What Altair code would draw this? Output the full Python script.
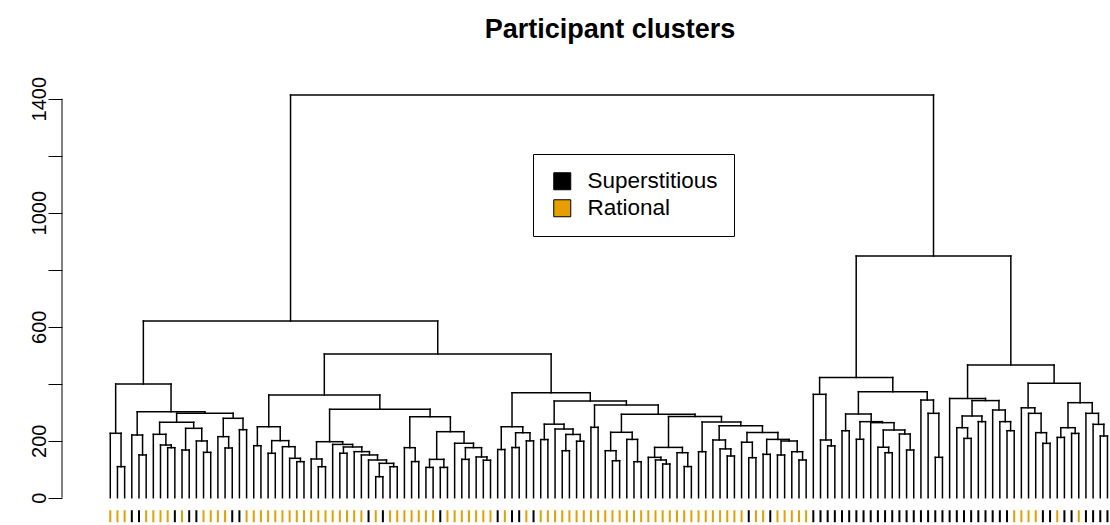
import altair as alt
import pandas as pd

# Hierarchical clustering of participants.
# Each merge is [left, right, height]; integers are participants in
# left-to-right dendrogram order.
A = [1, [2, 3, 109], 226]
B = [4, [5, 6, 150], 220]
C7 = [7, [8, [9, 10, 175.5], 184.9], 222.4]
C11 = [[11, 12, 167.3], [13, [14, 15, 159.1], 199.1], 243.4]
D = [C7, C11, 264.5]
E = [[16, [17, 18, 174.4], 214.2], [19, 20, 238.7], 278.6]
H = [A, [B, [D, E, 296.1], 302], 398.9]

I = [[21, 22, 182.5], [[23, 24, 155.8], [25, [26, [27, 28, 126.5], 138.2], 179], 200.2], 249]
J = [[29, [30, 31, 108.8], 135.8],
     [32, [[33, 34, 155.9],
           [35, [36, [37, [[38, 39, 73.7], [40, 41, 108.8], 120.6], 132.3], 150], 161.6], 178], 187],
     196.5]
K = [[42, [43, 44, 126.7], 175.6],
     [[[45, 46, 106.3], [47, 48, 106.3], 134.5],
      [49, [[50, 51, 134.5], [52, [53, 54, 131.5], 143], 175.6], 191], 231.6],
     284]
M = [I, [J, K, 310], 360.3]

P = [[55, 56, 169], [[57, 58, 176], [59, 60, 199.4], 228], 249]
Q = [[61, 62, 204], [63, [[64, 65, 164.9], [66, 67, 198.2], 222], 241], 258]
R1 = [68, 69, 246.9]
R2 = [[70, [71, 72, 129.8], 164.9], [73, [74, 75, 126.3], 204.6], 229.5]
R3 = [[76, [77, [78, 79, 118.2], 132.3], 141.6], [80, [81, 82, 109.2], 157.9], 176.5]
R4 = [[85, [86, [87, 88, 146.3], 171.2], 202.5],
      [[89, [90, 91, 140.4], 194.6],
       [[92, 93, 152.2], [[94, 95, 149.8], [96, [97, 98, 132.3], 161.4], 199], 204.6], 229],
      252.6]
R5 = [[83, 84, 161.4], R4, 266]
R8 = [R1, [R2, [R3, R5, 284.6], 292.6], 325]
O = [P, [Q, R8, 339], 368.5]
LEFT = [H, [M, O, 504], 620]

T = [99, [100, [101, 102, 181.8], 202.5], 362.7]
U = [[103, 104, 235],
     [[105, 106, 204.9],
      [107, [[108, [109, 110, 157.9], 177], [111, [112, 113, 167.4], 223.5], 237.5], 263.3],
      266.8],
     293.7]
V = [114, [115, [116, 117, 141.6], 296], 342.7]
X = [T, [U, V, 372], 421.6]
Y1 = [118, [[[119, [120, 121, 208.1], 245.6], [122, 123, 266.9], 286.7],
            [124, [125, [126, 127, 235.1], 266.9], 307.7], 340.7], 348.5]
Y2 = [128, [129, [130, [131, 132, 190.7], 228.2], 296], 315.4]
Y3 = [[[133, 134, 211.6], [135, 136, 225.6], 245.6],
      [137, [138, [139, 140, 216.5], 257.4], 296], 333.4]
RIGHT = [X, [Y1, [Y2, Y3, 401.3], 465.6], 848]

ROOT = [LEFT, RIGHT, 1413]

# Group of each participant, in leaf order (S = superstitious, R = rational)
GROUP_CODES = list(
    "RRRSSRRRRSRSSRRRRSSR"
    "RRRRRRRRRRRRRRRRSRSR"
    "RRRRRRSRRRRRRRSRSSRS"
    "RRRRRRRRRRRRRRRRRRRR"
    "RRRRRRRRRSRRSRRRRRSS"
    "SSSSSSSSSSSSSSSSSSSS"
    "SSSSSSRRRRSSRSSRSSSS"
)
GROUP_NAMES = {"S": "Superstitious", "R": "Rational"}
GROUP_ORDER = ["Superstitious", "Rational"]
GROUP_COLORS = ["#000000", "#E69F00"]

Y_TICKS = [0, 200, 400, 600, 800, 1000, 1200, 1400]
Y_LABELLED = [0, 200, 600, 1000, 1400]
TITLE = "Participant clusters"

# ---- dendrogram layout (leaf index on x, merge height on y) ----
segments = []


def layout(node):
    if isinstance(node, int):
        return float(node), 0.0
    left, right, h = node
    xl, hl = layout(left)
    xr, hr = layout(right)
    segments.append(dict(x=xl, x2=xl, y=hl, y2=h))
    segments.append(dict(x=xr, x2=xr, y=hr, y2=h))
    segments.append(dict(x=xl, x2=xr, y=h, y2=h))
    return (xl + xr) / 2.0, h


layout(ROOT)
seg_df = pd.DataFrame(segments)

leaf_df = pd.DataFrame({
    "x": list(range(1, len(GROUP_CODES) + 1)),
    "group": [GROUP_NAMES[c] for c in GROUP_CODES],
})
leaf_df["y"] = -44.0
leaf_df["y2"] = -86.0

# ---- scales: pixel geometry of the plotting region ----
PLOT_W, PLOT_H = 1048, 465
PAD_L, PAD_T = 62, 60
STEP = 7.243            # px per leaf
FIRST_LEAF_PX = 43.7    # first leaf, from the left edge of the region
PX_PER_UNIT = 0.285
ZERO_PX = 437.7         # height 0, from the top of the region

x_lo = 1 - FIRST_LEAF_PX / STEP
x_hi = x_lo + PLOT_W / STEP
y_hi = ZERO_PX / PX_PER_UNIT
y_lo = -(PLOT_H - ZERO_PX) / PX_PER_UNIT

x_scale = alt.Scale(domain=[x_lo, x_hi], nice=False, zero=False)
y_scale = alt.Scale(domain=[y_lo, y_hi], nice=False, zero=False)

label_expr = (
    "indexof(" + str(Y_LABELLED) + ", datum.value) >= 0 ? datum.label : ''"
)

tree = alt.Chart(seg_df).mark_rule(
    color="black", strokeWidth=1.5, strokeCap="square", clip=True
).encode(
    x=alt.X("x:Q", scale=x_scale, axis=None),
    x2="x2:Q",
    y=alt.Y(
        "y:Q",
        scale=y_scale,
        axis=alt.Axis(
            values=Y_TICKS,
            format="d",
            labelExpr=label_expr,
            domain=False,
            grid=False,
            tickSize=14,
            tickColor="black",
            tickWidth=1,
            labelAngle=270,
            labelAlign="center",
            labelBaseline="alphabetic",
            labelPadding=3,
            labelFontSize=20,
            labelFont="Liberation Sans",
            labelColor="black",
            labelOverlap=False,
            title=None,
        ),
    ),
    y2="y2:Q",
)

axis_line = alt.Chart(pd.DataFrame({"y": [Y_TICKS[0]], "y2": [Y_TICKS[-1]]})).mark_rule(
    color="black", strokeWidth=1
).encode(
    x=alt.value(0),
    y=alt.Y("y:Q", scale=y_scale, axis=None),
    y2="y2:Q",
)

leaves = alt.Chart(leaf_df).mark_bar(size=2, clip=True).encode(
    x=alt.X("x:Q", scale=x_scale, axis=None),
    y=alt.Y("y:Q", scale=y_scale, axis=None),
    y2="y2:Q",
    color=alt.Color(
        "group:N",
        scale=alt.Scale(domain=GROUP_ORDER, range=GROUP_COLORS),
        legend=alt.Legend(
            title=None,
            orient="none",
            legendX=471,
            legendY=94,
            direction="vertical",
            symbolType="square",
            symbolSize=289,
            symbolOffset=2,
            symbolStrokeColor="black",
            symbolStrokeWidth=1,
            labelFontSize=22.5,
            labelFont="Liberation Sans",
            labelColor="black",
            labelOffset=14,
            padding=16,
            rowPadding=4,
            strokeColor="black",
            fillColor="white",
            cornerRadius=0,
        ),
    ),
)

title = alt.Chart(pd.DataFrame({"t": [TITLE]})).mark_text(
    font="Liberation Sans",
    fontSize=27,
    fontWeight="bold",
    color="black",
    align="center",
    baseline="alphabetic",
).encode(
    text="t:N",
    x=alt.value(548),
    y=alt.value(-22),
)

chart = alt.layer(tree, axis_line, leaves, title).resolve_axis(
    y="independent"
).properties(
    width=PLOT_W,
    height=PLOT_H,
    padding={"left": PAD_L, "top": PAD_T, "right": 0, "bottom": 0},
    autosize="none",
    background="white",
).configure_view(strokeWidth=0)

chart.save("out.html", embed_options={"renderer": "svg", "actions": False})
